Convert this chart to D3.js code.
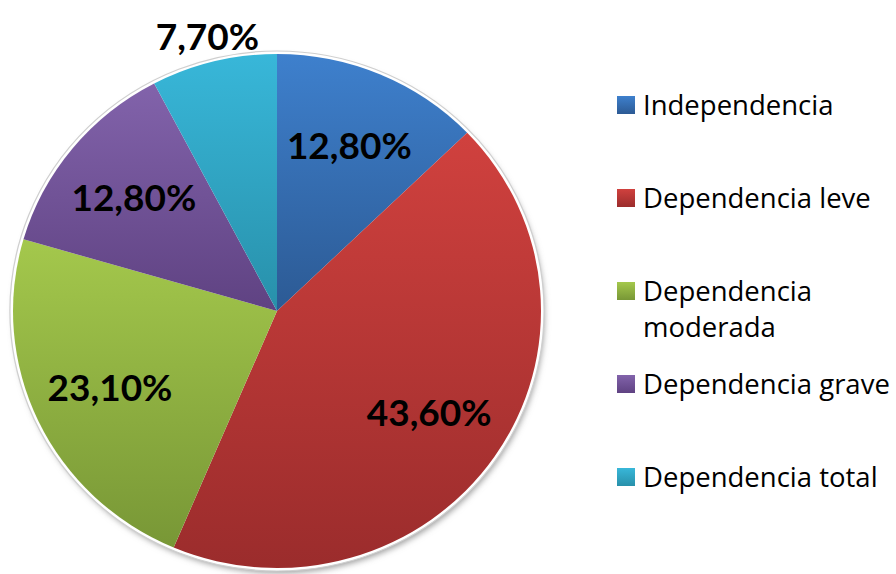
<!DOCTYPE html>
<meta charset="utf-8">
<script src="https://d3js.org/d3.v7.min.js"></script>
<style>
  body { margin: 0; background: #fff; }
</style>
<div id="chart"></div>
<script>

// data
var categories = ["Independencia", "Dependencia leve", "Dependencia moderada", "Dependencia grave", "Dependencia total"];
var values = [12.8, 43.6, 23.1, 12.8, 7.7];
var labels = ["12,80%", "43,60%", "23,10%", "12,80%", "7,70%"];
var legendLines = [["Independencia"], ["Dependencia leve"], ["Dependencia", "moderada"], ["Dependencia grave"], ["Dependencia total"]];
var topColors = ["#3e80cd", "#d0413e", "#a4c84c", "#8263ab", "#38b7d9"];
var bottomColors = ["#2c5a94", "#9b2c2c", "#789736", "#5f4282", "#2890aa"];

var width = 896, height = 574;
var cx = 277, cy = 311, r = 257, sx = 264 / 257;

var svg = d3.select("#chart").append("svg")
    .attr("width", width)
    .attr("height", height);

var defs = svg.append("defs");

// one vertical gradient per slice
categories.forEach(function(c, i) {
  var g = defs.append("linearGradient")
      .attr("id", "grad" + i)
      .attr("x1", 0).attr("y1", 0).attr("x2", 0).attr("y2", 1);
  g.append("stop").attr("offset", "0%").attr("stop-color", topColors[i]);
  g.append("stop").attr("offset", "100%").attr("stop-color", bottomColors[i]);
});

var blur = defs.append("filter").attr("id", "shadow")
    .attr("x", "-10%").attr("y", "-10%").attr("width", "120%").attr("height", "120%");
blur.append("feGaussianBlur").attr("stdDeviation", 3);

var pie = d3.pie().sort(null).value(function(d) { return d; });
var arcs = pie(values);
var arc = d3.arc().innerRadius(0).outerRadius(r);

var g = svg.append("g")
    .attr("transform", "translate(" + cx + "," + cy + ") scale(" + sx + ",1)");

// soft shadow and rim
g.append("ellipse")
    .attr("cx", 2).attr("cy", 4)
    .attr("rx", r + 1).attr("ry", r + 1)
    .attr("fill", "#9a9a9a")
    .attr("filter", "url(#shadow)");
g.append("circle")
    .attr("r", r + 3)
    .attr("fill", "#fff")
    .attr("stroke", "#cfcfcf")
    .attr("stroke-width", 1.2);

g.selectAll("path.slice")
  .data(arcs)
  .enter()
  .append("path")
    .attr("class", "slice")
    .attr("d", arc)
    .attr("fill", function(d, i) { return "url(#grad" + i + ")"; });

// labels: inside for big slices, outside for the small one
var labelArc = d3.arc().innerRadius(r * 0.7).outerRadius(r * 0.7);
var outerArc = d3.arc().innerRadius(r * 1.1).outerRadius(r * 1.1);

svg.selectAll("text.lbl")
  .data(arcs)
  .enter()
  .append("text")
    .attr("class", "lbl")
    .attr("x", function(d) {
      var c = (d.value < 10 ? outerArc : labelArc).centroid(d);
      return cx + c[0] * sx;
    })
    .attr("y", function(d) {
      var c = (d.value < 10 ? outerArc : labelArc).centroid(d);
      return cy + c[1];
    })
    .attr("dy", "0.36em")
    .attr("text-anchor", "middle")
    .style("font-family", "Lato, 'Open Sans', sans-serif")
    .style("font-weight", "bold")
    .style("font-size", "37px")
    .style("fill", "#000")
    .text(function(d, i) { return labels[i]; });

// legend
var legend = svg.append("g").attr("transform", "translate(617,0)");
var itemY = d3.scalePoint().domain(categories).range([105, 477]);

categories.forEach(function(c, i) {
  var y0 = itemY(c);
  legend.append("rect")
    .attr("x", 0).attr("y", y0 - 9)
    .attr("width", 18).attr("height", 18)
    .attr("fill", "url(#grad" + i + ")");
  var t = legend.append("text")
    .attr("y", y0)
    .style("font-family", "'Open Sans', sans-serif")
    .style("font-size", "27.5px")
    .style("fill", "#000");
  legendLines[i].forEach(function(l, k) {
    t.append("tspan").attr("x", 26).attr("dy", k === 0 ? "0.35em" : "1.33em").text(l);
  });
});

</script>
